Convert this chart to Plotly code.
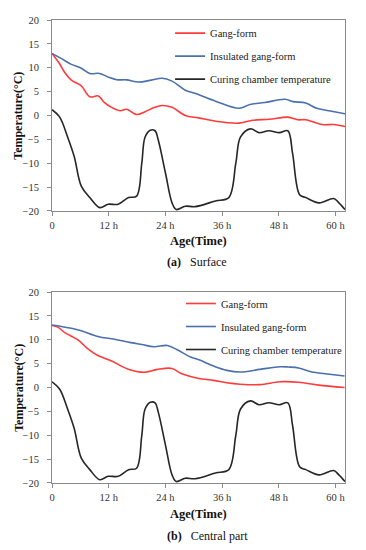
import plotly.graph_objects as go

# ---------------- data ----------------
tick_hours = [0, 12, 24, 36, 48, 60]
tick_labels = ["0", "12 h", "24 h", "36 h", "48 h", "60 h"]

# Curing chamber temperature (same in both panels)
t_chamber = [0, 1.6, 3.3, 4.7, 6.2, 8, 10.1, 11.9, 14, 16.2, 17.9, 19, 19.7, 20.8, 21.8, 22.5,
             24, 25.4, 26.3, 28.2, 30.3, 34.6, 37.4, 38.9, 39.9, 42, 43.8, 45.9, 48.1, 49.9,
             50.9, 52.4, 53.7, 56.5, 59.6, 60.7, 62]
chamber = [1.2, -0.3, -4.5, -8.6, -14.8, -17.2, -19.3, -18.6, -18.6, -17.2, -16.9, -10, -4.5, -3.1,
           -3.2, -5.2, -12, -18.3, -19.7, -19.0, -19.1, -17.9, -17.2, -10, -4.5, -2.8, -3.6, -3.2,
           -3.6, -3.2, -7.9, -16.6, -17.2, -18.3, -17.4, -18.3, -19.7]

# (a) Surface
t_gang_a = [0, 1.5, 2.7, 4.1, 6.2, 8, 9.8, 11, 12.6, 14.4, 15.8, 17.9, 19.7, 21.5, 23.3, 25.4,
            28.2, 31, 34.6, 39.6, 42.5, 46, 49.9, 52, 53.7, 57.2, 59.6, 62]
gang_a = [13, 11.0, 9.0, 7.4, 6.2, 3.9, 4.1, 2.8, 1.7, 1.0, 1.3, 0.2, 0.8, 1.6, 2.1, 1.7,
          0.0, -0.5, -1.2, -1.6, -1.0, -0.8, -0.35, -0.9, -0.9, -1.9, -1.9, -2.3]
t_ins_a = [0, 2, 4.1, 6.2, 8, 10.1, 12, 13.7, 15.8, 18.3, 21, 23.3, 25.4, 28.2, 30.4, 34.6,
           39.6, 41.9, 45, 49.3, 51, 53.7, 56, 58.6, 62]
ins_a = [13, 11.9, 10.7, 9.9, 8.8, 8.8, 8.0, 7.5, 7.45, 7.0, 7.4, 7.8, 7.2, 5.3, 4.6, 3.0,
         1.5, 2.3, 2.7, 3.4, 2.9, 2.6, 1.5, 1.0, 0.35]

# (b) Central part
t_gang_b = [0, 1.3, 2.7, 4, 5.5, 7.6, 9.7, 12.5, 16, 19.5, 22.3, 25.4, 27.2, 29.3, 31.1, 34.2,
            37, 39.8, 44, 48.2, 52.2, 56.4, 61.9]
gang_b = [13.0, 12.6, 11.5, 10.8, 10.0, 8.1, 6.7, 5.6, 3.9, 3.2, 3.8, 4.0, 3.0, 2.3, 1.9, 1.5,
          1.0, 0.7, 0.6, 1.2, 1.1, 0.5, 0.0]
t_ins_b = [0, 2, 4.1, 6.2, 9.7, 13.2, 16.7, 19, 21.6, 24.4, 26.5, 29.3, 31.1, 34.2, 37, 39.8,
           44, 48.2, 50, 52.2, 55, 57.8, 61.9]
ins_b = [13.1, 12.8, 12.4, 11.9, 10.7, 10.1, 9.4, 9.0, 8.55, 8.8, 7.9, 6.4, 5.8, 4.5, 3.6, 3.25,
         3.8, 4.35, 4.3, 4.1, 3.25, 2.9, 2.4]

names = ["Gang-form", "Insulated gang-form", "Curing chamber temperature"]
colors = ["#FF3B3B", "#4A70AE", "#262626"]

# ---------------- figure ----------------
FONT = "Liberation Serif, Times New Roman, serif"
AX = "#8A8A8A"
fig = go.Figure()

panels = [
    ("x", "y", "legend", [(t_gang_a, gang_a), (t_ins_a, ins_a), (t_chamber, chamber)]),
    ("x2", "y2", "legend2", [(t_gang_b, gang_b), (t_ins_b, ins_b), (t_chamber, chamber)]),
]
for xa, ya, lg, series in panels:
    for i, (tx, vy) in enumerate(series):
        fig.add_trace(go.Scatter(
            x=tx, y=vy, mode="lines", name=names[i],
            line=dict(color=colors[i], width=1.6, shape="spline", smoothing=1.0),
            xaxis=xa, yaxis=ya, legend=lg, legendgroup=f"{lg}{i}",
        ))

axis_common = dict(showline=True, mirror=True, linecolor=AX, linewidth=1,
                   ticks="outside", ticklen=4, tickcolor=AX, showgrid=False,
                   zeroline=False, tickfont=dict(family=FONT, size=10.5, color="#333333"))
xcommon = dict(axis_common, range=[0, 62], tickvals=tick_hours, ticktext=tick_labels)
ycommon = dict(axis_common, range=[-20, 20], tickvals=list(range(-20, 21, 5)),
               ticklabelstandoff=6)

top_dom = [0.5876, 1.0]
bot_dom = [0.0, 0.4124]

legend_common = dict(xanchor="left", yanchor="top", bgcolor="rgba(0,0,0,0)",
                     font=dict(family=FONT, size=10.5, color="#222222"),
                     tracegroupgap=4, itemwidth=30)

# page body has an 8px margin: figure is 358x542 so it fills the 366x550 window
fig.update_layout(
    width=358, height=542,
    margin=dict(l=44, r=21, t=7, b=67),
    paper_bgcolor="white", plot_bgcolor="white",
    font=dict(family=FONT, color="#222222"),
    xaxis=dict(xcommon, anchor="y", domain=[0, 1]),
    yaxis=dict(ycommon, anchor="x", domain=top_dom),
    xaxis2=dict(xcommon, anchor="y2", domain=[0, 1]),
    yaxis2=dict(ycommon, anchor="x2", domain=bot_dom),
    legend=dict(legend_common, x=0.403, y=1.003),
    legend2=dict(legend_common, x=0.44, y=0.419),
)

def y_center(dom):
    return (dom[0] + dom[1]) / 2

annots = [
    dict(text="<b>Temperature(°C)</b>", x=-0.115, y=y_center(top_dom), textangle=-90,
         font=dict(size=12)),
    dict(text="<b>Temperature(°C)</b>", x=-0.115, y=y_center(bot_dom), textangle=-90,
         font=dict(size=12)),
    dict(text="<b>Age(Time)</b>", x=0.5, y=1 - (238 - 15) / 468, font=dict(size=12.5)),
    dict(text="<b>Age(Time)</b>", x=0.5, y=-(514 - 483) / 468, font=dict(size=12.5)),
    dict(text="<b>(a)</b>\u00a0\u00a0 Surface", x=(165 - 52) / 293, xanchor="left",
         y=1 - (260 - 15) / 468, font=dict(size=12)),
    dict(text="<b>(b)</b>\u00a0\u00a0 Central part", x=(165 - 52) / 293, xanchor="left",
         y=-(537 - 483) / 468, font=dict(size=12)),
]
for a in annots:
    a.setdefault("xanchor", "center")
    fig.add_annotation(xref="paper", yref="paper", showarrow=False, yanchor="middle",
                       font=dict(family=FONT, color="#111111", size=a["font"]["size"]),
                       **{k: v for k, v in a.items() if k != "font"})

fig.write_html("out.html")
